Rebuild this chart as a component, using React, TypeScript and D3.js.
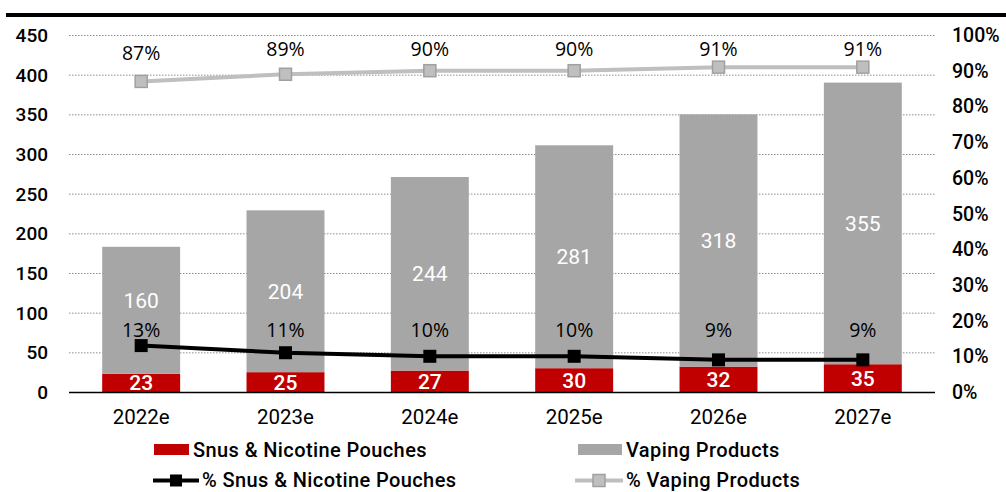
import React from "react";
import * as d3 from "d3";

const years = ["2022e", "2023e", "2024e", "2025e", "2026e", "2027e"];
const snus = [23, 25, 27, 30, 32, 35];
const vaping = [160, 204, 244, 281, 318, 355];
const snusPct = [13, 11, 10, 10, 9, 9];
const vapingPct = [87, 89, 90, 90, 91, 91];
const leftTicks = [0, 50, 100, 150, 200, 250, 300, 350, 400, 450];
const rightTicks = [0, 10, 20, 30, 40, 50, 60, 70, 80, 90, 100];

const W = 1006;
const H = 492;
const RED = "#c00000";
const GREY = "#a6a6a6";
const LIGHT = "#bfbfbf";
const FONT = "Roboto, 'Noto Sans', sans-serif";
const PCT_FONT = "'Open Sans', 'Noto Sans', sans-serif";

export default function App() {
  const x = d3.scaleBand<string>().domain(years).range([69, 935]).paddingInner(0.46).paddingOuter(0.23);
  const yL = d3.scaleLinear().domain([0, 450]).range([392, 35]);
  const yR = d3.scaleLinear().domain([0, 100]).range([392, 35]);
  const cx = (i: number) => (x(years[i]) as number) + x.bandwidth() / 2;

  const line = d3
    .line<number>()
    .x((_, i) => cx(i))
    .y((d) => yR(d));

  return (
    <svg width={W} height={H} style={{ position: "absolute", left: 0, top: 0, background: "#fff" }}>
      <rect x={6} y={13} width={W - 6} height={4} fill="#000" />

      {/* gridlines */}
      {leftTicks.slice(1).map((t) => (
        <line key={t} x1={69} x2={935} y1={yL(t) + 0.5} y2={yL(t) + 0.5} stroke="#8c8c8c" strokeWidth={1} strokeDasharray="1.5 1.5" />
      ))}

      {/* stacked bars */}
      {years.map((yr, i) => (
        <g key={yr}>
          <rect x={x(yr)} width={x.bandwidth()} y={yL(snus[i])} height={yL(0) - yL(snus[i])} fill={RED} />
          <rect
            x={x(yr)}
            width={x.bandwidth()}
            y={yL(snus[i] + vaping[i])}
            height={yL(snus[i]) - yL(snus[i] + vaping[i])}
            fill={GREY}
          />
          <text x={cx(i)} y={(yL(0) + yL(snus[i])) / 2} dy="0.36em" textAnchor="middle" fill="#fff" fontFamily={FONT} fontWeight={500} fontSize={21}>
            {snus[i]}
          </text>
          <text
            x={cx(i)}
            y={Math.min((yL(snus[i]) + yL(snus[i] + vaping[i])) / 2, 300)}
            dy="0.36em"
            textAnchor="middle"
            fill="#fff"
            fontFamily={FONT}
            fontSize={21}
          >
            {vaping[i]}
          </text>
        </g>
      ))}

      <line x1={69} x2={935} y1={392.5} y2={392.5} stroke="#000" strokeWidth={1.5} />

      {/* percentage lines */}
      <path d={line(vapingPct) || ""} fill="none" stroke={LIGHT} strokeWidth={4} />
      <path d={line(snusPct) || ""} fill="none" stroke="#000" strokeWidth={4} />
      {vapingPct.map((v, i) => (
        <g key={"v" + i}>
          <rect x={cx(i) - 6} y={yR(v) - 6} width={12} height={12} fill={LIGHT} stroke="#a0a0a0" strokeWidth={1.5} />
          <text x={cx(i)} y={Math.max(yR(v) - 28, 49)} dy="0.36em" textAnchor="middle" fontFamily={PCT_FONT} fontSize={19.5} fill="#000">
            {v}%
          </text>
        </g>
      ))}
      {snusPct.map((v, i) => (
        <g key={"s" + i}>
          <rect x={cx(i) - 6.5} y={yR(v) - 6.5} width={13} height={13} fill="#000" />
          <text x={cx(i)} y={Math.min(yR(v) - 16, 330)} dy="0.36em" textAnchor="middle" fontFamily={PCT_FONT} fontSize={19.5} fill="#000">
            {v}%
          </text>
        </g>
      ))}

      {/* axes labels */}
      {leftTicks.map((t) => (
        <text key={t} x={48} y={yL(t)} dy="0.36em" textAnchor="end" fontFamily={FONT} fontWeight={500} fontSize={19} fill="#000">
          {t}
        </text>
      ))}
      {rightTicks.map((t) => (
        <text key={t} x={952} y={yR(t)} dy="0.36em" textAnchor="start" fontFamily={FONT} fontWeight={500} fontSize={19.5} fill="#000">
          {t}%
        </text>
      ))}
      {years.map((yr, i) => (
        <text key={yr} x={cx(i)} y={417} dy="0.36em" textAnchor="middle" fontFamily={FONT} fontSize={20.5} fill="#000">
          {yr}
        </text>
      ))}

      {/* legend */}
      <g fontFamily={FONT} fontWeight={500} fontSize={20} letterSpacing={0.4} fill="#000">
        <rect x={154} y={444} width={35} height={11} fill={RED} />
        <text x={193} y={449.5} dy="0.36em">Snus &amp; Nicotine Pouches</text>
        <rect x={578} y={444} width={44} height={11} fill={GREY} />
        <text x={626} y={449.5} dy="0.36em">Vaping Products</text>

        <line x1={153} x2={199} y1={480.5} y2={480.5} stroke="#000" strokeWidth={4} />
        <rect x={170} y={474.5} width={12} height={12} fill="#000" />
        <text x={202} y={479.5} dy="0.36em">% Snus &amp; Nicotine Pouches</text>
        <line x1={575} x2={623} y1={480.5} y2={480.5} stroke={LIGHT} strokeWidth={4} />
        <rect x={593} y={474.5} width={12} height={12} fill={LIGHT} stroke="#a0a0a0" strokeWidth={1.5} />
        <text x={626} y={479.5} dy="0.36em">% Vaping Products</text>
      </g>
    </svg>
  );
}
